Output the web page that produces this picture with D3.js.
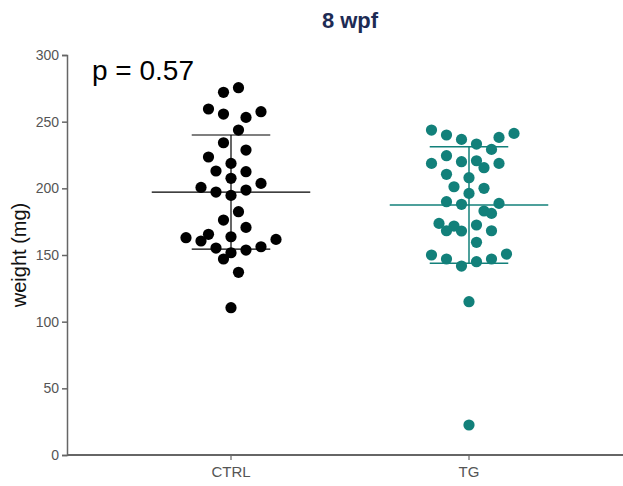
<!DOCTYPE html>
<html>
<head>
<meta charset="utf-8">
<script src="https://cdn.jsdelivr.net/npm/d3@7"></script>
<style>
  html, body { margin: 0; padding: 0; background: #fff; }
  svg { display: block; font-family: "Liberation Sans", Arial, sans-serif; }
</style>
</head>
<body>
<svg id="chart" width="623" height="486"></svg>
<script>
// ---- data ----
const categories = ["CTRL", "TG"];
const ctrlValues = [275.5, 272, 259.5, 255.7, 253.2, 257.5, 243.7, 234.2, 228.7, 223.5,
  218.7, 213, 212.5, 207.5, 200.7, 203.7, 197.2, 198.7, 194.7, 182.5,
  176.2, 170.7, 165.5, 163, 160.5, 163.7, 161.7, 155.2, 156.2, 153.7,
  151.7, 147, 137, 110.5];
const ctrlSlots = [1, -1, -3, -1, 2, 4, 1, -1, 2, -3,
  0, -2, 2, 0, -4, 4, -2, 2, 0, 1,
  -1, 2, -3, -6, -4, 0, 6, -2, 4, 2,
  0, -1, 1, 0];
const tgValues = [243.7, 240, 236.7, 233.2, 229.2, 238.2, 241.2, 224.5, 218.7, 220,
  220.7, 215.5, 218.7, 210.5, 208, 201.2, 200, 196.2, 190, 188,
  188.7, 183, 181.2, 173.7, 171.7, 168.2, 168, 172.5, 168.2, 159.5,
  150, 147, 141.7, 145, 147, 150.7, 115, 22.5];
const tgSlots = [-5, -3, -1, 1, 3, 4, 6, -3, -5, -1,
  1, 2, 4, -3, 0, -2, 2, 0, -3, -1,
  4, 2, 3, -4, -2, -3, -1, 1, 3, 1,
  -5, -3, -1, 1, 3, 5, 0, 0];
const groupMeans = [197.2, 187.5];
const groupSD = [42.8, 43.7];
const yTicks = [0, 50, 100, 150, 200, 250, 300];
const titleText = "8 wpf";
const pText = "p = 0.57";
const yLabel = "weight (mg)";

// ---- style ----
const colors = ["#000000", "#12807a"];
const axisColor = "#666666";
const tickTextColor = "#555555";

const svg = d3.select("#chart");
const plotLeft = 67, plotRight = 623, plotTop = 55, plotBottom = 455;

const y = d3.scaleLinear().domain([0, 300]).range([plotBottom, plotTop]);
const x = d3.scaleBand().domain(categories).range([112, 588]).paddingInner(0).paddingOuter(0);
const bw = x.bandwidth();
const cx = c => x(c) + bw / 2;
const dotStep = 7.5;
const r = 5.6;

// y axis
const yAxis = svg.append("g")
  .attr("transform", `translate(${plotLeft},0)`)
  .call(d3.axisLeft(y).tickValues(yTicks).tickSize(5).tickSizeOuter(5).tickPadding(3));
yAxis.selectAll("path, line").attr("stroke", axisColor).attr("stroke-width", 1.5);
yAxis.selectAll("text").attr("fill", tickTextColor).style("font-size", "14px")
  .style("font-family", "'Liberation Sans', Arial, sans-serif");

// x axis
const xAxis = svg.append("g")
  .attr("transform", `translate(0,${plotBottom})`)
  .call(d3.axisBottom(x).tickSize(5).tickSizeOuter(0).tickPadding(6));
xAxis.select(".domain").remove();
xAxis.selectAll("line").attr("stroke", axisColor).attr("stroke-width", 1.2);
xAxis.selectAll("text").attr("fill", tickTextColor).style("font-size", "15px")
  .style("font-family", "'Liberation Sans', Arial, sans-serif");
svg.append("line")
  .attr("x1", plotLeft).attr("x2", plotRight).attr("y1", plotBottom).attr("y2", plotBottom)
  .attr("stroke", axisColor).attr("stroke-width", 1.8);

// summary lines
categories.forEach((c, i) => {
  const g = svg.append("g").attr("stroke", colors[i]).attr("stroke-width", i === 0 ? 1.2 : 1.5);
  const m = groupMeans[i], s = groupSD[i];
  const center = cx(c);
  const meanHalf = bw * 0.333, capHalf = bw * 0.165;
  g.append("line").attr("x1", center - meanHalf).attr("x2", center + meanHalf)
    .attr("y1", y(m)).attr("y2", y(m));
  g.append("line").attr("x1", center).attr("x2", center)
    .attr("y1", y(m + s)).attr("y2", y(m - s));
  g.append("line").attr("x1", center - capHalf).attr("x2", center + capHalf)
    .attr("y1", y(m + s)).attr("y2", y(m + s));
  g.append("line").attr("x1", center - capHalf).attr("x2", center + capHalf)
    .attr("y1", y(m - s)).attr("y2", y(m - s));
});

// dots
const groups = [
  { cat: "CTRL", vals: ctrlValues, slots: ctrlSlots },
  { cat: "TG", vals: tgValues, slots: tgSlots }
];
groups.forEach((gr, i) => {
  svg.append("g").selectAll("circle")
    .data(gr.vals.map((v, k) => ({ v, s: gr.slots[k] })))
    .join("circle")
    .attr("cx", d => cx(gr.cat) + d.s * dotStep)
    .attr("cy", d => y(d.v))
    .attr("r", r)
    .attr("fill", colors[i]);
});

// title
svg.append("text").attr("x", 350).attr("y", 28).attr("text-anchor", "middle")
  .attr("fill", "#1d2b54").style("font-size", "22px").style("font-weight", "bold")
  .text(titleText);

// p value
svg.append("text").attr("x", 92).attr("y", 80)
  .attr("fill", "#000").style("font-size", "28px")
  .text(pText);

// y label
svg.append("text")
  .attr("transform", `translate(26,${(plotTop + plotBottom) / 2}) rotate(-90)`)
  .attr("text-anchor", "middle").attr("fill", "#111")
  .style("font-size", "20px")
  .text(yLabel);
</script>
</body>
</html>
